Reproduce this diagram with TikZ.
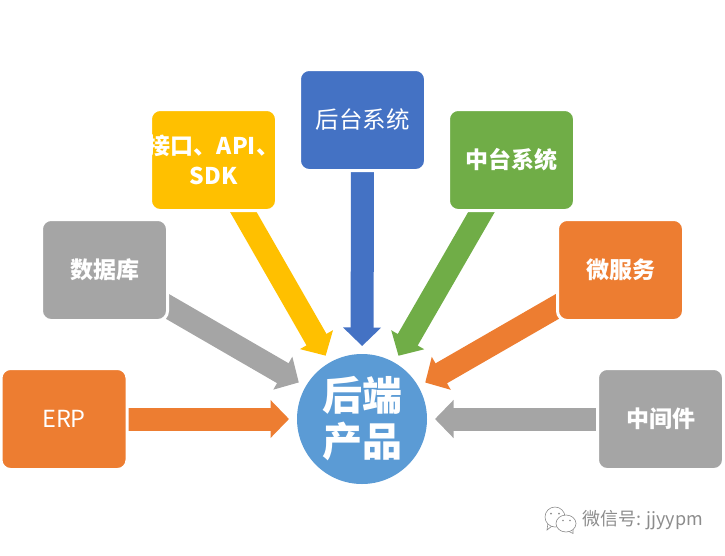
\documentclass[tikz,border=0pt]{standalone}
\usepackage{fontspec}
\usetikzlibrary{arrows.meta,backgrounds}
\newfontfamily\cjk{Noto Sans CJK SC}
\definecolor{orangeC}{HTML}{ED7D31}
\definecolor{grayC}{HTML}{A5A5A5}
\definecolor{yellowC}{HTML}{FFC000}
\definecolor{blueC}{HTML}{4472C4}
\definecolor{greenC}{HTML}{70AD47}
\definecolor{hubC}{HTML}{5B9BD5}
\definecolor{markC}{HTML}{8C8C8C}
\begin{document}
\begin{tikzpicture}[
		x=1pt, y=-1pt,
		main/.style = {draw=white, line width=3pt, rounded corners=9.5pt, minimum width=126pt, minimum height=101pt, inner sep=0pt, align=center, text=white, font=\cjk\fontsize{23.5}{30}\selectfont},
		heavy/.style = {font=\cjk\bfseries\fontsize{23}{30}\selectfont},
		hub/.style = {circle, fill=hubC, minimum size=130pt, inner sep=0pt, align=center, text=white, font=\cjk\bfseries\fontsize{40}{46}\selectfont},
		feed/.style = {line width=23pt, -{Triangle[length=18.5pt,width=37pt]}, shorten >=73pt},
		wmark/.style = {draw=markC, line width=.6pt, fill=white}
	]
	\useasboundingbox (0,0) rectangle (725,555);
	\node[hub] (h) at (362,419) {后端\\产品};
	% Bottom row.
	\node[main, fill=orangeC] (erp) at (64,419) {ERP};
	\node[main, heavy, fill=grayC] (mid) at (660.5,419) {中间件};
	% Middle row.
	\node[main, heavy, fill=grayC] (db) at (104.5,270) {数据库};
	\node[main, heavy, fill=orangeC] (ms) at (620.5,270) {微服务};
	% Upper row.
	\node[main, heavy, fill=yellowC] (api) at (213.5,160) {\makebox[0pt]{接口、API、}\\SDK};
	\node[main, heavy, fill=greenC] (mt) at (511.5,160) {中台系统};
	\node[main, fill=blueC] (bp) at (362.5,120) {后台系统};

	\begin{scope}[on background layer]
		\draw[feed, orangeC] (erp.center) to (h.center);
		\draw[feed, grayC] (db.center) to (h.center);
		\draw[feed, yellowC] (api.center) to (h.center);
		\draw[feed, blueC] (bp.center) to (h.center);
		\draw[feed, greenC] (mt.center) to (h.center);
		\draw[feed, orangeC] (ms.center) to (h.center);
		\draw[feed, grayC] (mid.center) to (h.center);
	\end{scope}

	% Watermark.
	\draw[wmark] (547,530) -- (548,523) -- (552,526) -- cycle;
	\draw[wmark] (555,517) ellipse (10 and 10);
	\fill[markC] (551,513.5) circle (1) (559,513.5) circle (1);
	\draw[wmark] (573,533.5) -- (573,528) -- (568,531) -- cycle;
	\draw[wmark] (566,523.5) ellipse (10 and 8.5);
	\fill[markC] (563,520.5) circle (.9) (570,520.5) circle (.9);
	\node[text=markC, font=\cjk\fontsize{18}{22}\selectfont, inner sep=0pt] (wm) at (642.5,520) {微信号: jjyypm};
\end{tikzpicture}
\end{document}
